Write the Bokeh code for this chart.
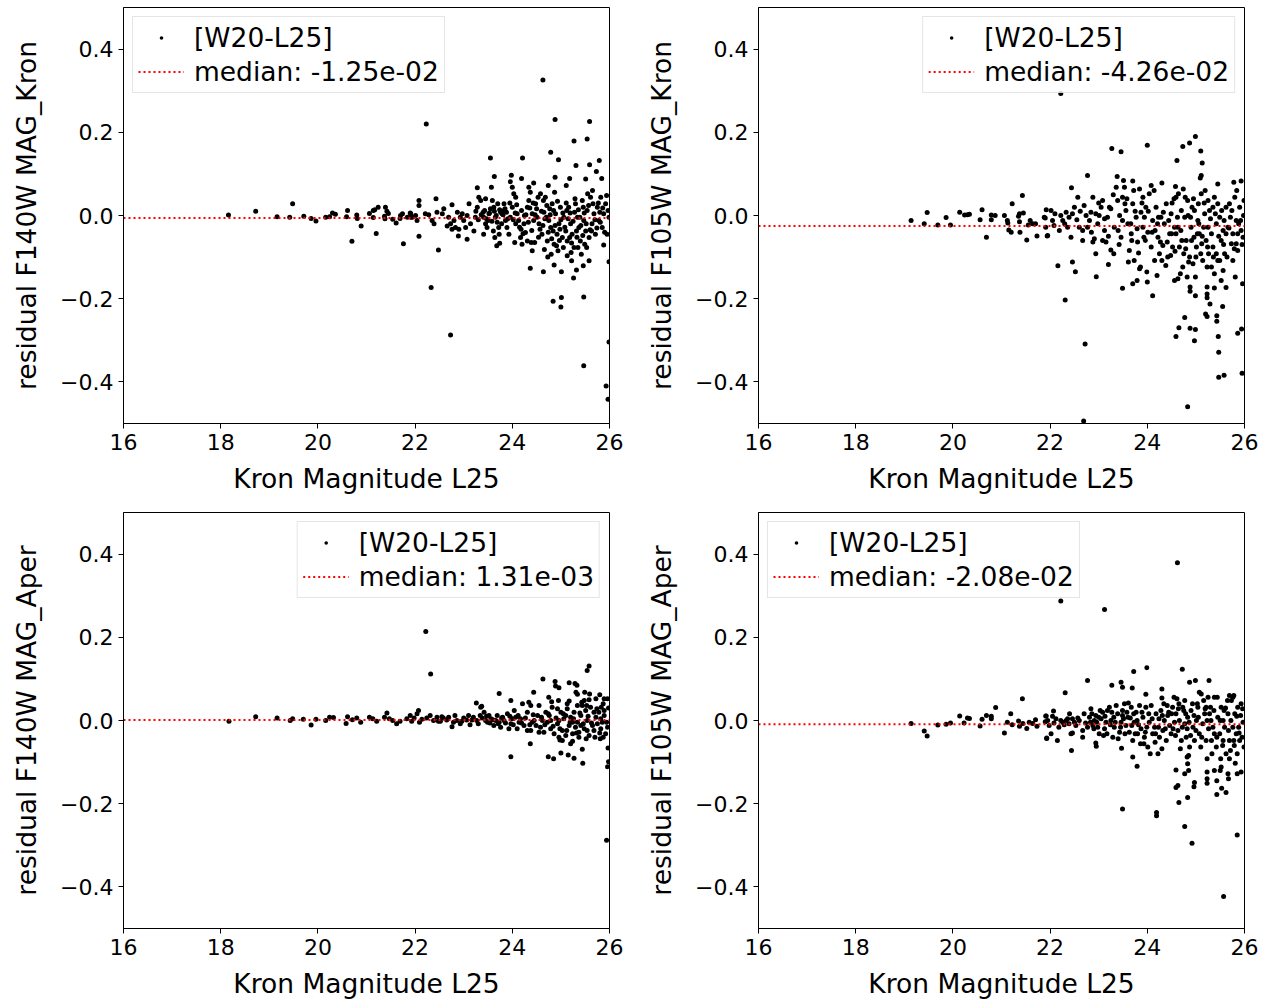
from bokeh.plotting import figure
from bokeh.layouts import column, row
from bokeh.models import Range1d, FixedTicker, CustomJSTickFormatter, Legend, LegendItem
from bokeh.embed import file_html
from bokeh.resources import INLINE

# ---------------- data ----------------
X_RANGE = (16, 26)
Y_RANGE = (-0.5, 0.5)
X_TICKS = [16, 18, 20, 22, 24, 26]
Y_TICKS = [-0.4, -0.2, 0.0, 0.2, 0.4]

SERIES_LABEL = "[W20-L25]"
YLABELS = ["residual F140W MAG_Kron", "residual F105W MAG_Kron",
           "residual F140W MAG_Aper", "residual F105W MAG_Aper"]
MEDIAN_LABELS = ["median: -1.25e-02", "median: -4.26e-02",
                 "median: 1.31e-03", "median: -2.08e-02"]
# level at which the dotted median line appears in the figure
MEDIAN_LINE = [-0.006, -0.025, 0.001, -0.009]
XLABEL = "Kron Magnitude L25"

# panel 1: F140W MAG_Kron  (Kron magnitude, residual)
P1_POINTS = [
    (18.16, 0.001), (18.72, 0.010), (19.16, -0.003), (19.48, 0.028), (19.42, -0.004), (19.71, -0.002),
    (19.86, -0.007), (19.96, -0.013), (20.16, -0.004), (20.24, -0.003), (20.30, 0.006), (20.36, 0.003),
    (20.61, 0.012), (20.59, -0.003), (20.70, -0.062), (20.80, 0.001), (20.81, -0.007), (20.89, -0.025),
    (21.06, 0.005), (21.14, 0.012), (21.17, 0.014), (21.14, -0.005), (21.20, -0.043), (21.24, 0.020),
    (21.39, 0.020), (21.42, 0.010), (21.45, 0.005), (21.37, -0.002), (21.38, -0.008), (21.54, -0.009),
    (21.61, -0.018), (21.69, -0.007), (21.74, 0.004), (21.76, -0.068), (21.90, 0.006), (21.91, -0.004),
    (24.63, 0.326), (22.23, 0.220), (24.88, 0.231), (25.59, 0.226), (25.27, 0.179), (25.54, 0.184),
    (24.79, 0.152), (24.95, 0.134), (25.31, 0.120), (25.79, 0.132), (25.59, 0.122), (25.73, 0.106),
    (23.55, 0.138), (24.21, 0.138), (23.63, 0.094), (23.98, 0.097), (24.19, 0.089), (24.88, 0.092),
    (25.18, 0.089), (25.51, 0.088), (25.84, 0.089), (23.28, 0.067), (23.57, 0.068), (24.44, 0.078),
    (25.11, 0.072), (23.96, 0.081), (22.43, 0.040), (22.08, 0.036), (22.76, 0.026),
    (22.08, -0.050), (22.48, -0.083), (22.33, -0.173), (22.73, -0.287), (24.37, -0.127), (24.64, -0.135),
    (25.01, -0.135), (25.26, -0.150), (24.84, -0.206), (25.01, -0.197), (25.00, -0.220), (25.47, -0.196),
    (25.47, -0.361), (25.99, -0.111), (25.99, -0.304), (25.93, -0.410), (25.97, -0.442), (25.88, -0.071),
    (24.73, -0.100), (24.86, -0.119), (25.32, -0.131), (25.46, -0.121), (25.58, -0.109), (25.22, -0.109),
    (25.13, -0.097), (24.41, -0.085), (24.66, -0.082), (23.68, -0.073), (23.74, -0.067), (23.07, -0.057),
    (22.89, -0.049),
    (21.70, 0.000), (21.91, 0.004), (21.94, -0.004), (22.04, -0.012), (22.08, 0.024), (22.21, 0.004),
    (22.28, 0.002), (22.39, -0.020), (22.35, -0.012), (22.01, 0.000), (21.84, -0.004),
    (22.45, 0.008), (22.56, 0.004), (22.59, 0.016), (22.69, -0.004), (22.73, -0.020), (22.80, -0.012),
    (22.83, -0.029), (22.90, -0.033), (22.93, -0.004), (23.00, -0.012), (23.07, 0.000), (23.11, 0.028),
    (23.14, -0.020), (23.21, -0.037), (22.97, 0.004), (22.87, 0.008), (22.66, -0.025), (22.76, -0.033),
    (23.04, -0.029),
    (23.24, -0.004), (23.28, 0.020), (23.31, 0.044), (23.35, 0.036), (23.41, -0.004), (23.45, -0.020),
    (23.48, -0.029), (23.41, -0.045), (23.52, 0.004), (23.55, 0.016), (23.59, 0.036), (23.62, 0.020),
    (23.65, -0.004), (23.69, -0.016), (23.72, -0.029), (23.45, 0.040), (23.40, 0.008), (23.50, -0.012),
    (23.61, -0.037), (23.64, -0.053), (23.70, 0.028), (23.76, 0.008), (23.73, -0.045),
    (23.79, 0.004), (23.83, 0.012), (23.86, -0.012), (23.89, -0.029), (23.93, -0.045), (23.96, -0.004),
    (24.00, 0.020), (24.03, 0.052), (24.07, 0.044), (24.10, 0.004), (24.13, -0.012), (24.17, -0.053),
    (24.20, -0.069), (24.24, -0.020), (24.27, -0.041), (24.31, 0.020), (24.34, 0.036), (24.37, 0.056),
    (24.41, 0.004), (24.44, -0.012), (24.31, -0.061), (24.07, -0.020), (24.00, 0.068), (24.34, 0.068),
    (23.83, 0.028), (23.88, 0.008), (24.05, -0.065), (24.18, -0.033), (24.25, 0.000), (24.39, -0.065),
    (24.48, 0.028), (24.51, -0.004), (24.55, -0.020), (24.58, 0.052), (24.61, -0.045), (24.65, 0.008),
    (24.68, 0.044), (24.72, -0.061), (24.75, -0.012), (24.79, -0.029), (24.82, 0.028), (24.86, -0.069),
    (24.89, 0.004), (24.92, -0.045), (24.96, -0.020), (24.99, 0.020), (25.03, -0.053), (25.06, -0.004),
    (25.10, -0.037), (25.13, -0.061), (24.46, -0.065), (24.57, -0.033), (24.64, 0.036), (24.70, -0.004),
    (24.77, 0.016), (24.84, -0.037), (24.91, -0.073), (24.98, -0.033), (25.05, -0.077), (25.12, 0.012),
    (24.87, 0.056), (24.53, 0.044), (24.80, -0.093), (24.94, -0.085), (24.74, 0.072),
    (25.16, 0.020), (25.20, -0.020), (25.23, -0.045), (25.27, -0.077), (25.30, 0.028), (25.34, -0.004),
    (25.37, -0.029), (25.40, -0.061), (25.44, 0.036), (25.47, -0.012), (25.51, -0.037), (25.54, 0.012),
    (25.58, -0.053), (25.61, 0.044), (25.64, -0.020), (25.68, 0.004), (25.71, -0.045), (25.75, 0.020),
    (25.78, -0.012), (25.82, 0.044), (25.85, -0.029), (25.88, 0.004), (25.92, 0.028), (25.95, -0.045),
    (25.99, -0.004), (25.21, -0.089), (25.35, -0.077), (25.42, -0.093), (25.49, -0.069), (25.28, 0.008),
    (25.46, 0.020), (25.55, 0.052), (25.66, 0.028), (25.80, 0.008), (25.94, 0.048), (25.18, -0.053),
    (25.32, -0.037), (25.39, -0.004), (25.53, -0.077), (25.63, -0.037),
]
P1_DENSE = [
    (23.25, 0.010), (23.30, -0.010), (23.36, 0.002), (23.43, 0.012), (23.47, -0.008), (23.53, 0.006),
    (23.58, -0.014), (23.63, 0.010), (23.67, 0.000), (23.74, 0.014), (23.78, -0.020), (23.81, 0.002),
    (23.85, 0.016), (23.91, -0.008), (23.95, 0.030), (24.02, -0.010), (24.06, 0.006), (24.09, 0.026),
    (24.15, -0.028), (24.19, 0.012), (24.22, -0.044), (24.28, 0.002), (24.33, -0.016), (24.36, 0.018),
    (24.40, -0.036), (24.43, 0.030), (24.47, 0.002), (24.50, 0.016), (24.54, -0.052), (24.60, 0.010),
    (24.63, -0.024), (24.67, -0.008), (24.71, 0.024), (24.74, -0.040), (24.78, 0.002), (24.81, -0.056),
    (24.85, 0.012), (24.88, -0.024), (24.93, 0.034), (24.97, -0.060), (25.00, -0.010), (25.04, 0.006),
    (25.08, -0.028), (25.11, 0.030), (25.15, -0.008), (25.19, 0.006), (25.22, -0.066), (25.25, -0.014),
    (25.29, 0.040), (25.33, -0.052), (25.36, 0.014), (25.41, -0.024), (25.45, -0.048), (25.48, 0.006),
    (25.52, -0.020), (25.57, 0.024), (25.60, -0.034), (25.65, 0.060), (25.70, -0.010), (25.74, -0.030),
    (25.77, 0.030), (25.81, -0.016), (25.86, 0.018), (25.90, -0.040), (25.97, 0.012),
]

# panel 2: F105W MAG_Kron
P2_POINTS = [
    (19.14, -0.012), (19.41, -0.020), (19.47, 0.007), (19.69, -0.023), (19.86, -0.005), (19.95, -0.023),
    (20.14, 0.008), (20.24, 0.001), (20.30, 0.002), (20.34, 0.003), (20.56, -0.010), (20.60, 0.014),
    (20.69, -0.052), (20.79, 0.001), (20.79, -0.010), (20.87, 0.000), (21.06, 0.000), (21.12, -0.012),
    (21.13, -0.018), (21.15, -0.035), (21.20, -0.040), (21.22, 0.028), (21.35, -0.002), (21.37, 0.004),
    (21.37, -0.015), (21.43, 0.048), (21.45, 0.006), (21.38, -0.040), (21.52, -0.059), (21.55, -0.023),
    (21.59, -0.012), (21.64, -0.020), (21.70, -0.020), (21.73, -0.049), (21.90, -0.006), (21.92, 0.014),
    (21.94, -0.049),
    (22.22, 0.293), (23.27, 0.161), (23.46, 0.153), (24.00, 0.169), (24.99, 0.190), (24.87, 0.174),
    (24.73, 0.166), (25.10, 0.155), (24.61, 0.132), (25.13, 0.126), (25.11, 0.096), (25.09, 0.090),
    (22.77, 0.096), (22.44, 0.067), (23.38, 0.094), (23.51, 0.084), (23.70, 0.083), (24.30, 0.078),
    (24.58, 0.070), (25.45, 0.076), (25.78, 0.080), (25.93, 0.083),
    (22.16, -0.121), (22.46, -0.112), (22.52, -0.135), (22.31, -0.203), (22.95, -0.147), (22.72, -0.309),
    (22.69, -0.494), (23.49, -0.175), (23.70, -0.164), (23.79, -0.156), (24.00, -0.160), (24.11, -0.193),
    (23.20, -0.118), (24.56, -0.156), (24.63, -0.152), (24.88, -0.172), (24.88, -0.182), (24.99, -0.193),
    (24.77, -0.245), (24.65, -0.270), (24.59, -0.291), (24.88, -0.271), (24.99, -0.274), (24.97, -0.301),
    (24.83, -0.460), (25.23, -0.172), (25.23, -0.189), (25.23, -0.198), (25.38, -0.174), (25.29, -0.213),
    (25.20, -0.237), (25.23, -0.243), (25.43, -0.241), (25.43, -0.254), (25.55, -0.219), (25.46, -0.291),
    (25.47, -0.329), (25.47, -0.389), (25.58, -0.384), (25.62, -0.173), (25.81, -0.148), (25.96, -0.164),
    (25.86, -0.283), (25.94, -0.273), (25.95, -0.379),
    (21.88, -0.004), (21.91, -0.028), (22.02, 0.012), (22.05, -0.012), (21.95, -0.048), (22.08, -0.024),
    (22.22, 0.000), (22.26, -0.012), (22.33, 0.008), (22.39, -0.004), (22.43, -0.052), (22.50, 0.020),
    (22.19, -0.036), (22.36, -0.028), (22.46, 0.004),
    (22.57, 0.044), (22.60, -0.028), (22.67, -0.060), (22.70, 0.024), (22.74, 0.000), (22.81, -0.012),
    (22.84, 0.008), (22.88, 0.044), (22.91, -0.056), (22.94, -0.092), (22.98, -0.020), (23.01, 0.000),
    (23.05, 0.020), (23.08, 0.036), (23.12, -0.036), (23.15, -0.064), (23.18, -0.004), (22.88, -0.064),
    (23.08, -0.060), (22.67, -0.036), (22.77, -0.028), (22.94, 0.004), (23.12, -0.008), (23.25, -0.083),
    (23.31, -0.092), (23.22, 0.020),
    (23.25, 0.016), (23.32, -0.028), (23.36, 0.068), (23.39, 0.036), (23.43, 0.000), (23.46, -0.052),
    (23.49, 0.044), (23.53, 0.068), (23.56, 0.012), (23.60, -0.020), (23.63, -0.084), (23.67, -0.044),
    (23.70, 0.028), (23.73, -0.108), (23.77, -0.004), (23.80, -0.064), (23.84, 0.064), (23.87, 0.008),
    (23.86, -0.124), (23.91, -0.028), (23.49, -0.012), (23.61, -0.112), (23.68, -0.060), (23.79, -0.032),
    (23.40, -0.036), (23.54, 0.028), (23.72, 0.060), (23.84, -0.128), (23.93, -0.052),
    (23.91, 0.044), (23.94, -0.004), (23.97, 0.020), (24.01, -0.040), (24.04, 0.052), (24.08, -0.076),
    (24.11, -0.012), (24.15, -0.108), (24.18, 0.020), (24.22, -0.052), (24.25, -0.092), (24.28, -0.004),
    (24.32, -0.072), (24.35, -0.020), (24.39, 0.028), (24.42, -0.100), (24.46, -0.044), (24.49, 0.004),
    (24.52, -0.076), (24.56, -0.028), (24.08, 0.072), (24.20, -0.144), (23.99, -0.136), (24.30, -0.108),
    (24.41, -0.064), (24.50, -0.044), (24.55, 0.040), (24.23, -0.004), (24.16, -0.036), (24.48, -0.096),
    (24.59, 0.044), (24.63, -0.028), (24.66, -0.076), (24.70, 0.012), (24.73, -0.124), (24.77, -0.004),
    (24.80, -0.060), (24.83, 0.036), (24.87, -0.100), (24.90, -0.028), (24.94, -0.116), (24.97, 0.012),
    (25.01, -0.076), (25.04, -0.012), (25.07, -0.044), (25.11, 0.052), (25.14, -0.108), (25.18, 0.004),
    (25.21, -0.060), (25.25, 0.036), (24.59, -0.044), (24.68, -0.140), (24.75, -0.092), (24.82, -0.148),
    (24.89, -0.004), (24.96, -0.052), (25.03, -0.044), (25.10, -0.092), (25.16, -0.028), (25.23, -0.124),
    (24.64, 0.052), (24.78, 0.044), (24.92, 0.020), (25.05, 0.028), (25.19, 0.060), (24.85, -0.112),
    (24.99, -0.148), (25.12, -0.068), (25.26, -0.092), (24.71, -0.060),
    (25.28, 0.012), (25.32, -0.044), (25.35, -0.076), (25.38, 0.044), (25.42, -0.020), (25.45, -0.108),
    (25.49, -0.004), (25.52, -0.060), (25.56, -0.036), (25.59, -0.092), (25.62, 0.020), (25.66, -0.028),
    (25.69, 0.028), (25.73, -0.068), (25.76, -0.044), (25.80, 0.044), (25.83, -0.012), (25.86, -0.044),
    (25.90, 0.020), (25.93, -0.036), (25.97, -0.052), (25.32, -0.124), (25.38, -0.140), (25.49, -0.108),
    (25.56, -0.132), (25.52, -0.156), (25.42, -0.092), (25.62, -0.044), (25.71, -0.004), (25.83, -0.068),
    (25.35, 0.020), (25.25, -0.028), (25.45, 0.028), (25.58, -0.012), (25.76, -0.108), (25.92, -0.012),
    (25.99, 0.036), (25.86, -0.084),
]
P2_DENSE = [
    (22.10, 0.004), (22.30, -0.020), (22.55, -0.010), (22.62, 0.010), (22.85, -0.040), (23.00, 0.030),
    (23.20, -0.050), (23.30, 0.050), (23.42, -0.070), (23.58, 0.040), (23.66, -0.020), (23.75, 0.010),
    (23.82, -0.090), (23.89, 0.030), (23.96, -0.060), (24.02, 0.010), (24.10, -0.040), (24.14, 0.060),
    (24.21, -0.020), (24.27, -0.064), (24.33, 0.008), (24.38, -0.120), (24.44, -0.012), (24.51, 0.030),
    (24.57, -0.086), (24.62, -0.004), (24.69, -0.036), (24.74, 0.064), (24.79, -0.080), (24.84, 0.000),
    (24.91, -0.060), (24.95, 0.040), (25.00, -0.100), (25.06, -0.020), (25.13, -0.050), (25.17, 0.030),
    (25.24, -0.076), (25.30, -0.008), (25.36, -0.100), (25.40, 0.004), (25.47, -0.050), (25.53, 0.012),
    (25.57, -0.070), (25.64, -0.100), (25.68, -0.030), (25.74, 0.012), (25.79, -0.080), (25.84, 0.060),
    (25.88, -0.020), (25.95, -0.070), (25.98, 0.000),
]

# panel 3: F140W MAG_Aper
P3_POINTS = [
    (18.17, -0.002), (18.72, 0.009), (19.16, 0.006), (19.43, 0.000), (19.48, 0.004), (19.70, 0.003),
    (19.86, -0.011), (19.96, 0.003), (20.16, 0.000), (20.24, 0.008), (20.32, 0.007), (20.58, -0.007),
    (20.61, 0.009), (20.71, 0.002), (20.80, 0.006), (20.88, -0.004), (21.06, 0.008), (21.13, 0.004),
    (21.21, -0.002), (21.37, 0.008), (21.42, 0.018), (21.47, 0.004), (21.54, 0.000), (21.62, -0.008),
    (21.69, -0.002), (21.83, 0.004), (21.90, 0.012), (21.93, -0.002), (21.98, 0.006), (22.04, 0.016),
    (22.07, 0.024), (22.09, -0.004), (22.14, 0.003), (22.22, 0.214), (22.32, 0.112),
    (22.24, 0.006), (22.31, 0.012), (22.38, 0.000), (22.45, 0.008), (22.52, -0.002), (22.58, 0.006),
    (22.65, 0.001), (22.76, -0.015), (22.79, -0.004), (22.86, 0.000), (22.93, -0.008), (23.00, 0.006),
    (23.06, 0.001), (23.13, -0.010), (23.20, 0.008), (23.27, 0.000), (23.34, 0.012), (23.26, 0.042),
    (23.37, 0.034), (22.48, -0.002), (22.55, 0.009), (22.69, 0.008), (22.82, 0.012), (22.96, -0.002),
    (23.10, 0.012), (23.17, 0.001), (23.30, -0.008),
    (25.58, 0.131), (25.54, 0.120), (24.63, 0.100), (24.88, 0.094), (24.89, 0.083), (24.96, 0.079),
    (25.17, 0.091), (25.29, 0.089), (25.33, 0.085), (25.31, 0.068), (25.34, 0.063), (25.49, 0.068),
    (25.59, 0.064), (23.73, 0.065), (24.44, 0.068), (23.97, 0.048), (24.75, 0.056), (24.81, 0.045),
    (24.95, 0.048), (25.13, 0.040), (25.43, 0.044), (25.53, 0.036), (25.58, 0.050), (25.72, 0.052),
    (25.80, 0.062), (25.89, 0.052), (25.96, 0.052), (25.83, 0.032), (25.89, 0.024),
    (24.37, -0.056), (23.97, -0.087), (24.74, -0.087), (24.85, -0.092), (25.00, -0.078), (25.15, -0.083),
    (25.27, -0.091), (25.45, -0.103), (24.98, -0.047), (25.24, -0.050), (25.44, -0.069), (25.81, -0.044),
    (25.87, -0.040), (25.97, -0.066), (25.98, -0.099), (25.96, -0.111), (25.94, -0.288),
    (23.35, 0.032), (23.42, 0.020), (23.49, -0.004), (23.56, 0.004), (23.62, -0.012), (23.69, 0.012),
    (23.76, -0.016), (23.83, 0.000), (23.90, 0.016), (23.97, -0.008), (24.04, 0.024), (24.10, -0.020),
    (24.17, 0.004), (24.21, 0.040), (24.24, -0.012), (24.31, 0.020), (24.34, 0.044), (24.38, -0.024),
    (24.45, 0.000), (24.52, 0.012), (24.55, 0.036), (24.58, -0.016), (24.65, -0.028), (24.69, 0.020),
    (24.72, -0.004), (24.79, -0.020), (24.82, 0.032), (24.86, -0.032), (24.93, -0.008), (25.00, 0.020),
    (25.03, -0.024), (25.06, 0.004), (25.10, -0.036), (25.13, 0.028), (25.17, -0.012), (25.20, 0.008),
    (25.24, -0.032), (25.27, 0.020), (25.30, -0.016), (25.34, -0.004), (25.37, -0.028), (25.41, 0.012),
    (25.44, 0.036), (25.48, -0.020), (25.51, 0.024), (25.54, 0.000), (25.58, -0.036), (25.61, 0.032),
    (25.65, -0.012), (25.68, -0.024), (25.72, 0.008), (25.75, -0.008), (25.78, 0.020), (25.82, -0.020),
    (25.85, -0.004), (25.89, 0.012), (25.92, -0.032), (25.96, -0.016), (23.45, 0.000), (23.66, 0.000),
    (23.80, 0.008), (24.00, 0.004), (24.14, -0.004), (24.41, -0.004), (24.62, 0.000), (24.76, 0.012),
    (24.96, 0.000), (25.10, 0.012), (25.24, -0.004), (25.41, -0.012), (25.54, -0.024), (25.68, 0.020),
    (25.82, 0.004), (25.48, 0.048), (25.34, 0.036), (25.17, 0.047), (24.93, 0.028), (24.38, 0.036),
    (24.07, 0.008), (23.93, -0.020), (23.73, -0.004), (23.52, 0.012), (25.03, -0.048), (25.20, -0.056),
    (25.37, -0.040), (24.96, -0.040), (24.55, -0.028), (24.31, -0.024), (24.79, 0.000),
]
P3_DENSE = [
    (23.38, 0.006), (23.47, 0.010), (23.54, -0.006), (23.60, 0.002), (23.71, -0.008), (23.78, 0.006),
    (23.86, -0.006), (23.95, 0.010), (24.02, -0.010), (24.12, 0.012), (24.19, -0.006), (24.27, 0.006),
    (24.36, -0.010), (24.43, 0.014), (24.49, -0.012), (24.60, 0.008), (24.67, -0.010), (24.74, 0.016),
    (24.84, -0.014), (24.90, 0.006), (24.98, -0.020), (25.05, 0.016), (25.12, -0.024), (25.19, -0.004),
    (25.26, 0.004), (25.32, -0.030), (25.39, 0.018), (25.46, -0.008), (25.52, -0.044), (25.56, 0.010),
    (25.63, -0.006), (25.70, -0.040), (25.74, 0.028), (25.80, -0.030), (25.87, 0.040), (25.94, -0.004),
    (25.98, 0.030),
]

# panel 4: F105W MAG_Aper
P4_POINTS = [
    (19.14, -0.007), (19.41, -0.025), (19.47, -0.037), (19.69, -0.011), (19.86, -0.009), (19.95, -0.006),
    (20.14, 0.011), (20.23, -0.006), (20.30, 0.006), (20.34, 0.005), (20.56, -0.013), (20.60, 0.003),
    (20.69, 0.012), (20.79, 0.004), (20.79, 0.010), (20.88, 0.031), (21.06, -0.030), (21.12, -0.004),
    (21.19, 0.016), (21.22, -0.010), (21.35, -0.001), (21.37, -0.014), (21.43, 0.052), (21.44, -0.007),
    (21.52, -0.019), (21.57, -0.004), (21.64, -0.007), (21.70, 0.002), (21.73, -0.014), (21.90, -0.003),
    (21.92, 0.011), (21.93, -0.043),
    (24.62, 0.379), (22.22, 0.287), (23.12, 0.267), (22.77, 0.096), (22.31, 0.067), (23.72, 0.118),
    (23.99, 0.127), (24.72, 0.123), (23.27, 0.085), (23.46, 0.092), (23.49, 0.080), (23.69, 0.078),
    (23.97, 0.063), (24.30, 0.076), (24.30, 0.054), (24.87, 0.092), (24.99, 0.096), (25.27, 0.096),
    (25.69, 0.060), (25.78, 0.060),
    (22.44, -0.072), (22.94, -0.054), (22.95, -0.062), (23.47, -0.067), (23.70, -0.088), (23.79, -0.110),
    (23.49, -0.213), (24.19, -0.221), (24.19, -0.229), (24.59, -0.119), (24.63, -0.156), (24.59, -0.161),
    (24.65, -0.197), (24.83, -0.185), (24.77, -0.255), (24.92, -0.295), (24.96, -0.159), (24.97, -0.149),
    (24.82, -0.088), (24.83, -0.104), (24.85, -0.120), (24.77, -0.128), (25.23, -0.092), (25.23, -0.124),
    (25.23, -0.140), (25.23, -0.151), (25.38, -0.120), (25.43, -0.145), (25.43, -0.178), (25.53, -0.163),
    (25.62, -0.173), (25.50, -0.120), (25.52, -0.112), (25.66, -0.128), (25.67, -0.140), (25.85, -0.128),
    (25.93, -0.124), (25.81, -0.103), (25.85, -0.080), (25.85, -0.275), (25.57, -0.423), (25.69, -0.092),
    (21.91, 0.011), (21.95, 0.000), (21.98, -0.012), (22.02, -0.032), (22.07, 0.023), (21.93, -0.042),
    (22.15, -0.048), (22.22, 0.000), (22.26, -0.004), (22.33, 0.000), (22.39, -0.008), (22.43, -0.032),
    (22.46, 0.004), (22.50, -0.004), (22.08, -0.006), (22.29, -0.010), (22.36, 0.004), (22.46, -0.030),
    (22.12, 0.004),
    (22.53, -0.012), (22.60, 0.000), (22.67, -0.024), (22.70, 0.016), (22.77, -0.016), (22.81, 0.008),
    (22.84, 0.028), (22.88, -0.012), (22.91, 0.000), (22.94, 0.012), (22.98, -0.016), (23.01, -0.032),
    (23.05, 0.004), (23.08, 0.020), (23.12, -0.020), (23.15, -0.004), (23.18, 0.024), (22.67, -0.040),
    (22.83, -0.004), (23.03, 0.024), (23.10, -0.036), (23.17, -0.032), (22.90, -0.020), (22.96, -0.004),
    (23.24, -0.010),
    (23.22, 0.032), (23.25, 0.000), (23.29, -0.040), (23.32, -0.016), (23.36, 0.036), (23.39, 0.016),
    (23.43, -0.028), (23.46, -0.004), (23.49, 0.024), (23.53, 0.040), (23.56, -0.012), (23.60, 0.008),
    (23.63, -0.028), (23.67, 0.032), (23.70, -0.048), (23.73, -0.004), (23.77, 0.020), (23.80, -0.032),
    (23.84, 0.036), (23.87, -0.020), (23.31, 0.008), (23.45, -0.016), (23.54, -0.032), (23.61, 0.042),
    (23.79, 0.000), (23.86, -0.056), (23.40, -0.044), (23.68, -0.012), (23.75, -0.032), (23.49, 0.012),
    (23.91, 0.008), (23.94, -0.040), (23.97, 0.032), (24.01, -0.064), (24.04, -0.004), (24.08, 0.036),
    (24.11, -0.032), (24.15, -0.016), (24.18, 0.016), (24.22, -0.080), (24.25, -0.040), (24.28, 0.024),
    (24.32, -0.024), (24.35, 0.000), (24.39, -0.048), (24.42, 0.012), (24.46, -0.012), (24.49, -0.032),
    (24.52, 0.032), (24.56, -0.004), (23.93, -0.056), (24.06, -0.080), (24.16, -0.052), (24.30, -0.068),
    (24.41, 0.036), (24.50, 0.016), (24.55, 0.056), (24.23, -0.016), (23.99, -0.016), (24.34, 0.040),
    (24.59, 0.016), (24.63, -0.024), (24.66, 0.000), (24.70, -0.048), (24.73, 0.032), (24.77, -0.008),
    (24.80, -0.040), (24.83, 0.008), (24.87, -0.064), (24.90, 0.024), (24.94, -0.016), (24.97, -0.048),
    (25.01, 0.000), (25.04, 0.032), (25.07, -0.032), (25.11, 0.064), (25.14, -0.008), (25.18, 0.016),
    (25.21, -0.048), (25.25, 0.056), (24.61, 0.052), (24.68, -0.068), (24.75, 0.024), (24.82, -0.020),
    (24.89, -0.036), (24.96, 0.012), (25.03, 0.040), (25.10, -0.064), (25.16, 0.048), (25.23, 0.000),
    (25.07, 0.068), (25.21, 0.032), (24.77, 0.048), (24.64, 0.028), (24.85, -0.084),
    (25.28, 0.016), (25.32, -0.048), (25.35, -0.016), (25.38, 0.056), (25.42, -0.064), (25.45, 0.008),
    (25.49, -0.032), (25.52, 0.032), (25.56, -0.048), (25.59, -0.016), (25.62, -0.080), (25.66, 0.016),
    (25.69, -0.048), (25.73, 0.048), (25.76, -0.016), (25.80, 0.016), (25.83, -0.032), (25.86, 0.032),
    (25.90, -0.048), (25.93, 0.040), (25.97, -0.004), (25.99, -0.064), (25.33, -0.080), (25.44, 0.056),
    (25.51, -0.092), (25.58, 0.024), (25.65, 0.048), (25.71, -0.072), (25.78, -0.048), (25.88, -0.016),
    (25.95, -0.040), (25.38, -0.032), (25.56, 0.000), (25.30, 0.032), (25.76, 0.056), (25.92, 0.012),
]
P4_DENSE = [
    (22.05, 0.010), (22.18, -0.016), (22.40, 0.016), (22.57, 0.006), (22.73, -0.006), (22.86, 0.016),
    (23.00, 0.008), (23.13, 0.010), (23.27, 0.020), (23.34, -0.004), (23.51, 0.004), (23.58, 0.020),
    (23.65, 0.006), (23.72, 0.016), (23.82, -0.010), (23.89, 0.020), (23.96, -0.028), (24.03, 0.016),
    (24.10, 0.004), (24.17, -0.032), (24.24, 0.004), (24.31, 0.012), (24.37, -0.020), (24.44, 0.020),
    (24.53, -0.020), (24.58, -0.036), (24.65, 0.040), (24.72, -0.016), (24.79, 0.016), (24.86, -0.004),
    (24.93, 0.040), (25.00, -0.024), (25.05, 0.008), (25.12, -0.040), (25.19, 0.028), (25.26, -0.020),
    (25.31, 0.000), (25.37, 0.024), (25.43, -0.040), (25.50, 0.000), (25.55, -0.060), (25.61, 0.030),
    (25.67, -0.024), (25.72, 0.000), (25.79, -0.060), (25.84, 0.010), (25.89, -0.030), (25.96, 0.028),
]

PANELS = [P1_POINTS + P1_DENSE, P2_POINTS + P2_DENSE,
          P3_POINTS + P3_DENSE, P4_POINTS + P4_DENSE]
LEGEND_LOC = ["top_left", "top_right", "top_right", "top_left"]

FONT = "DejaVu Sans"
TICK_FS = "22px"
LABEL_FS = "26.5px"

YFMT = CustomJSTickFormatter(code="""
    if (Math.abs(tick) < 1e-9) { return '0.0'; }
    return (tick < 0 ? '\\u2212' : '') + Math.abs(tick).toFixed(1);
""")


def make_panel(i, height, top, bottom):
    pts = PANELS[i]
    mags = [p[0] for p in pts]
    res = [p[1] for p in pts]
    p = figure(width=635, height=height, output_backend="svg", toolbar_location=None,
               x_range=Range1d(*X_RANGE), y_range=Range1d(*Y_RANGE),
               min_border_left=123, min_border_right=26,
               min_border_top=top, min_border_bottom=bottom,
               background_fill_color="white", border_fill_color="white")
    p.grid.visible = False
    p.outline_line_color = "black"
    p.outline_line_width = 1
    p.outline_line_alpha = 1

    p.xaxis.ticker = FixedTicker(ticks=X_TICKS)
    p.yaxis.ticker = FixedTicker(ticks=Y_TICKS)
    p.yaxis.formatter = YFMT
    p.xaxis.axis_label = XLABEL
    p.yaxis.axis_label = YLABELS[i]
    for ax in (p.xaxis[0], p.yaxis[0]):
        ax.major_label_text_font = FONT
        ax.major_label_text_font_size = TICK_FS
        ax.major_label_text_color = "black"
        ax.axis_label_text_font = FONT
        ax.axis_label_text_font_size = LABEL_FS
        ax.axis_label_text_font_style = "normal"
        ax.axis_label_text_color = "black"
        ax.axis_line_color = "black"
        ax.major_tick_line_color = "black"
        ax.major_tick_in = 0
        ax.major_tick_out = 5
        ax.minor_tick_in = 0
        ax.minor_tick_out = 0
        ax.major_label_standoff = 5
    p.xaxis.axis_label_standoff = 10
    p.yaxis.axis_label_standoff = 15

    r_pts = p.scatter(mags, res, size=5, marker="circle",
                      fill_color="black", line_color=None)
    m = MEDIAN_LINE[i]
    r_med = p.line([X_RANGE[0], X_RANGE[1]], [m, m], line_color="red",
                   line_width=2, line_dash="2 3")

    legend = Legend(items=[LegendItem(label=SERIES_LABEL, renderers=[r_pts]),
                           LegendItem(label=MEDIAN_LABELS[i], renderers=[r_med])],
                    location=LEGEND_LOC[i])
    legend.label_text_font = FONT
    legend.label_text_font_size = LABEL_FS
    legend.label_text_color = "black"
    legend.glyph_width = 46
    legend.glyph_height = 9      # small legend dot, like the reference
    legend.label_height = 26
    legend.spacing = 3
    legend.padding = 5
    legend.margin = 9
    legend.label_standoff = 10
    legend.border_line_color = "#cccccc"
    legend.border_line_width = 1
    legend.background_fill_color = "white"
    legend.background_fill_alpha = 0.8
    p.add_layout(legend)
    return p


p1 = make_panel(0, 505, 7, 82)
p2 = make_panel(1, 505, 7, 82)
p3 = make_panel(2, 496, 7, 73)
p4 = make_panel(3, 496, 7, 73)

layout = column(row(p1, p2), row(p3, p4))

with open("out.html", "w") as f:
    f.write(file_html(layout, INLINE))
